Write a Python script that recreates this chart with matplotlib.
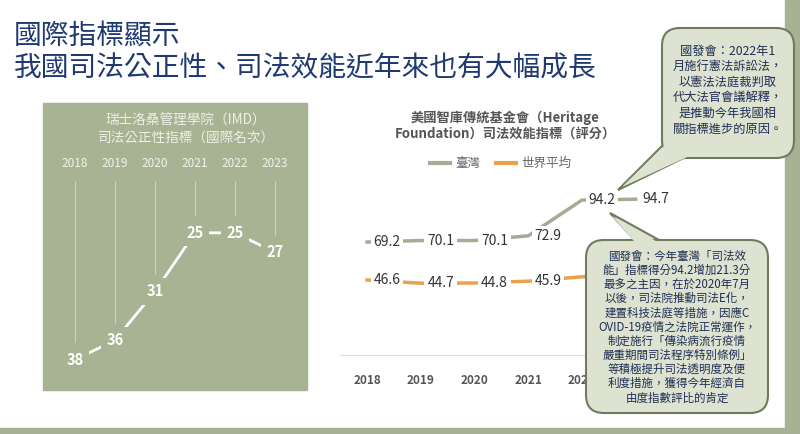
import matplotlib
matplotlib.use("Agg")
import matplotlib.pyplot as plt
from matplotlib.patches import FancyBboxPatch, Polygon, Rectangle

plt.rcParams["font.family"] = ["Noto Sans CJK TC", "DejaVu Sans"]

years = [2018, 2019, 2020, 2021, 2022, 2023]
imd_rank = [38, 36, 31, 25, 25, 27]
taiwan_score = [69.2, 70.1, 70.1, 72.9, 94.2, 94.7]
world_avg = [46.6, 44.7, 44.8, 45.9, 48.5, 49.5]

W, H = 800, 434
fig = plt.figure(figsize=(8, 4.34), dpi=100)
fig.patch.set_facecolor("white")

def px_axes(l, t, r, b, z=1):
    return fig.add_axes([l / W, 1 - b / H, (r - l) / W, (b - t) / H], zorder=z)

# overlay (decorations)
ov = px_axes(0, 0, W, H, z=0)
ov.set_xlim(0, W); ov.set_ylim(H, 0); ov.axis("off")
ov.add_patch(Rectangle((785, 0), 15, H, color="#a7b295"))
ov.add_patch(Rectangle((0, 428), W, 6, color="#a7b295"))
ov.add_patch(Rectangle((43, 103), 264, 287, color="#a8b394"))
ov.text(14, 36, "國際指標顯示", fontsize=20, color="#1f3a70", va="center")
ov.text(14, 68, "我國司法公正性、司法效能近年來也有大幅成長", fontsize=20, color="#1f3a70", va="center")
ov.text(186, 129, "瑞士洛桑管理學院（IMD）\n司法公正性指標（國際名次）", fontsize=9.8,
        color="#eef0e6", ha="center", va="center", linespacing=1.3)
ov.text(505, 126, "美國智庫傳統基金會（Heritage\nFoundation）司法效能指標（評分）", fontsize=9.5,
        color="#555555", ha="center", va="center", linespacing=1.3, fontweight="bold")
ov.plot([430, 450], [163, 163], color="#a3ad94", lw=3)
ov.text(455, 163, "臺灣", fontsize=9, color="#666666", va="center")
ov.plot([496, 516], [163, 163], color="#eba24d", lw=3)
ov.text(521, 163, "世界平均", fontsize=9, color="#666666", va="center")

# left chart
la = px_axes(43, 103, 307, 390, z=2)
la.set_facecolor("none"); la.axis("off")
la.set_xlim(2017.2, 2023.8)
la.set_ylim(41.1, 11.7)
la.plot(years, imd_rank, color="white", lw=2)
for x, v in zip(years, imd_rank):
    la.plot([x, x], [19.7, v - 1.8], color="#d4d9c8", lw=0.6)
    la.text(x, 17.9, str(x), color="#f2f4ec", fontsize=8.5, ha="center", va="center")
    la.text(x, v, str(v), color="white", fontsize=10.5, ha="center", va="center", fontweight="bold",
            bbox=dict(boxstyle="square,pad=0.35", fc="#a8b394", ec="none"))

# right chart
ra = px_axes(340, 130, 690, 355, z=2)
ra.set_facecolor("none")
ra.set_xlim(2017.497, 2024.01)
ra.set_ylim(1.95, 135.9)
for s in ["top", "right", "left"]:
    ra.spines[s].set_visible(False)
ra.spines["bottom"].set_color("#dddddd")
ra.set_yticks([])
ra.set_xticks(years)
ra.set_xticklabels([str(y) for y in years], fontsize=8.5, color="#555555", fontweight="bold")
ra.tick_params(axis="x", length=0, pad=14)
ra.plot(years, taiwan_score, color="#a3ad94", lw=2.5)
ra.plot(years, world_avg, color="#eba24d", lw=2.5)
for x, v in zip(years, taiwan_score):
    ra.text(x + 0.37, v, f"{v}", fontsize=10, color="#333333", ha="center", va="center",
            bbox=dict(boxstyle="square,pad=0.2", fc="white", ec="none"))
for x, v in zip(years, world_avg):
    ra.text(x + 0.37, v, f"{v}", fontsize=10, color="#333333", ha="center", va="center",
            bbox=dict(boxstyle="square,pad=0.2", fc="white", ec="none"))

# callouts
co = px_axes(0, 0, W, H, z=5)
co.set_xlim(0, W); co.set_ylim(H, 0); co.axis("off")
fc, ec = "#dde3d0", "#6f7a5f"
co.add_patch(Polygon([(668, 140), (618, 190), (700, 150)], closed=True, fc=fc, ec=ec, lw=1.5))
co.add_patch(FancyBboxPatch((662, 28), 132, 130, boxstyle="round,pad=0,rounding_size=18",
                            fc=fc, ec=ec, lw=1.5))
co.add_patch(Polygon([(610, 213), (640, 246), (670, 246)], closed=True, fc=fc, ec=ec, lw=1.5))
co.add_patch(FancyBboxPatch((586, 240), 182, 173, boxstyle="round,pad=0,rounding_size=18",
                            fc=fc, ec=ec, lw=1.5))
co.add_patch(Polygon([(612, 216), (640, 248), (668, 248)], closed=True, fc=fc, ec="none"))
co.add_patch(Polygon([(667, 143), (622, 187), (698, 152)], closed=True, fc=fc, ec="none"))
co.text(728, 90, "國發會：2022年1\n月施行憲法訴訟法，\n以憲法法庭裁判取\n代大法官會議解釋，\n是推動今年我國相\n關指標進步的原因。",
        fontsize=8.8, color="#1f2f55", ha="center", va="center", linespacing=1.25)
co.text(677, 327, "國發會：今年臺灣「司法效\n能」指標得分94.2增加21.3分\n最多之主因，在於2020年7月\n以後，司法院推動司法E化，\n建置科技法庭等措施，因應C\nOVID-19疫情之法院正常運作，\n制定施行「傳染病流行疫情\n嚴重期間司法程序特別條例」\n等積極提升司法透明度及便\n利度措施，獲得今年經濟自\n由度指數評比的肯定",
        fontsize=8.3, color="#1f2f55", ha="center", va="center", linespacing=1.12)

fig.savefig("out.png", dpi=100)
